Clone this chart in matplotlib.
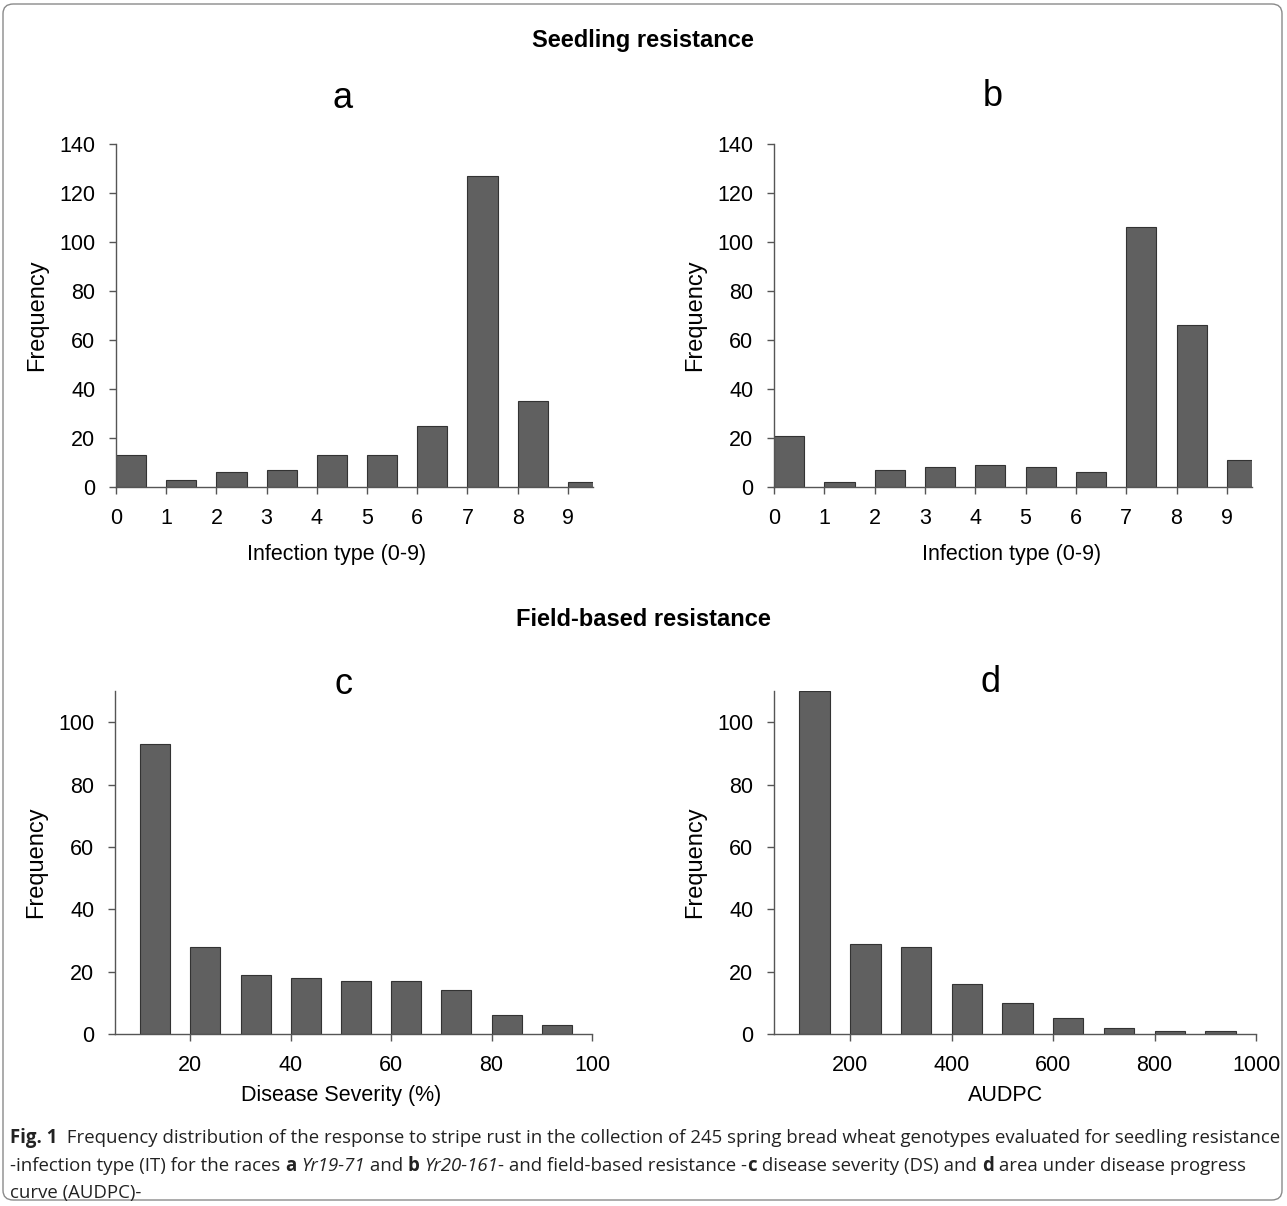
import numpy as np
import matplotlib
matplotlib.use('Agg')
import matplotlib.pyplot as plt
from matplotlib.patches import FancyBboxPatch
from matplotlib import font_manager

# data
it_classes = [0, 1, 2, 3, 4, 5, 6, 7, 8, 9]
race_a_freq = [13, 3, 6, 7, 13, 13, 25, 127, 35, 2]
race_b_freq = [21, 2, 7, 8, 9, 8, 6, 106, 66, 11]
ds_bins = [10, 20, 30, 40, 50, 60, 70, 80, 90]
ds_freq = [93, 28, 19, 18, 17, 17, 14, 6, 3]
audpc_bins = [100, 200, 300, 400, 500, 600, 700, 800, 900]
audpc_freq = [110, 29, 28, 16, 10, 5, 2, 1, 1]

plt.rcParams['font.family'] = ['Liberation Sans', 'DejaVu Sans']

W, H = 1287, 1206
fig = plt.figure(figsize=(W / 100, H / 100), dpi=100)

bar_color = '#606060'
edge_color = '#333333'
spine_color = '#555555'


def style_axes(ax, xlabel, label_x, label_y):
    for s in ['top', 'right']:
        ax.spines[s].set_visible(False)
    for s in ['left', 'bottom']:
        ax.spines[s].set_color(spine_color)
        ax.spines[s].set_linewidth(1.0)
    ax.tick_params(direction='out', length=5, width=1, color=spine_color,
                   labelsize=15.5, pad=10)
    ax.set_ylabel('Frequency', fontsize=17, labelpad=8)
    ax.set_xlabel(xlabel, fontsize=15.5)
    # label position in axes fraction (reference labels sit left of centre)
    ax.xaxis.set_label_coords(label_x, label_y)


def px_axes(left, top, right, bottom):
    return fig.add_axes([left / W, 1 - bottom / H, (right - left) / W, (bottom - top) / H])


# seedling panels
ax_a = px_axes(116, 144, 593, 487)
ax_b = px_axes(774, 144, 1252, 487)
for ax, freq, lx in [(ax_a, race_a_freq, 0.463), (ax_b, race_b_freq, 0.497)]:
    ax.bar(it_classes, freq, width=0.6, align='edge', color=bar_color,
           edgecolor=edge_color, linewidth=0.8)
    ax.set_xlim(0, 9.5)
    ax.set_ylim(0, 140)
    ax.set_xticks(it_classes)
    ax.set_yticks(range(0, 141, 20))
    style_axes(ax, 'Infection type (0-9)', lx, -0.165)

# field panels
ax_c = px_axes(115, 691, 592, 1034)
ax_c.bar(ds_bins, ds_freq, width=6, align='edge', color=bar_color,
         edgecolor=edge_color, linewidth=0.8)
ax_c.set_xlim(5, 100)
ax_c.set_ylim(0, 110)
ax_c.set_xticks([20, 40, 60, 80, 100])
ax_c.set_yticks(range(0, 101, 20))
style_axes(ax_c, 'Disease Severity (%)', 0.474, -0.148)

ax_d = px_axes(774, 691, 1256, 1034)
ax_d.bar(audpc_bins, audpc_freq, width=60, align='edge', color=bar_color,
         edgecolor=edge_color, linewidth=0.8)
ax_d.set_xlim(50, 1000)
ax_d.set_ylim(0, 110)
ax_d.set_xticks([200, 400, 600, 800, 1000])
ax_d.set_yticks(range(0, 101, 20))
style_axes(ax_d, 'AUDPC', 0.481, -0.148)

# headings and panel letters
fig.text(643 / W, 1 - 40 / H, 'Seedling resistance', ha='center', va='center',
         fontsize=17, fontweight='bold')
fig.text(643 / W, 1 - 620 / H, 'Field-based resistance', ha='center', va='center',
         fontsize=17, fontweight='bold')
for lx, ly, lab in [(343, 98, 'a'), (993, 96, 'b'), (343, 684, 'c'), (990, 682, 'd')]:
    fig.text(lx / W, 1 - ly / H, lab, ha='center', va='center', fontsize=26)

# frame
frame = FancyBboxPatch((3 / W, 6 / H), 1279 / W, 1196 / H,
                       boxstyle='round,pad=0,rounding_size=0.008',
                       transform=fig.transFigure, fill=False,
                       edgecolor='#8a8a8a', linewidth=1.0)
fig.patches.append(frame)

# caption, drawn as runs of text
names = {f.name for f in font_manager.fontManager.ttflist}
cap_font = 'Liberation Sans Narrow' if 'Liberation Sans Narrow' in names else 'Open Sans'
cap_size = 13.4

caption = [
    [('Fig. 1', 'bold', 'normal'),
     ('  Frequency distribution of the response to stripe rust in the collection of 245 spring bread wheat genotypes evaluated for seedling resistance', 'normal', 'normal')],
    [('-infection type (IT) for the races ', 'normal', 'normal'), ('a', 'bold', 'normal'),
     (' ', 'normal', 'normal'), ('Yr19-71', 'normal', 'italic'),
     (' and ', 'normal', 'normal'), ('b', 'bold', 'normal'), (' ', 'normal', 'normal'),
     ('Yr20-161', 'normal', 'italic'),
     ('- and field-based resistance -', 'normal', 'normal'), ('c', 'bold', 'normal'),
     (' disease severity (DS) and ', 'normal', 'normal'), ('d', 'bold', 'normal'),
     (' area under disease progress', 'normal', 'normal')],
    [('curve (AUDPC)-', 'normal', 'normal')],
]
line_y = [1138, 1166, 1193]

fig.canvas.draw()
renderer = fig.canvas.get_renderer()
for runs, y in zip(caption, line_y):
    x = 10
    for txt, weight, style in runs:
        t = fig.text(x / W, 1 - y / H, txt, ha='left', va='center', fontsize=cap_size,
                     family=cap_font, fontweight=weight, fontstyle=style, color='#222222')
        bb = t.get_window_extent(renderer)
        x += bb.width

fig.savefig('out.png', dpi=100)
